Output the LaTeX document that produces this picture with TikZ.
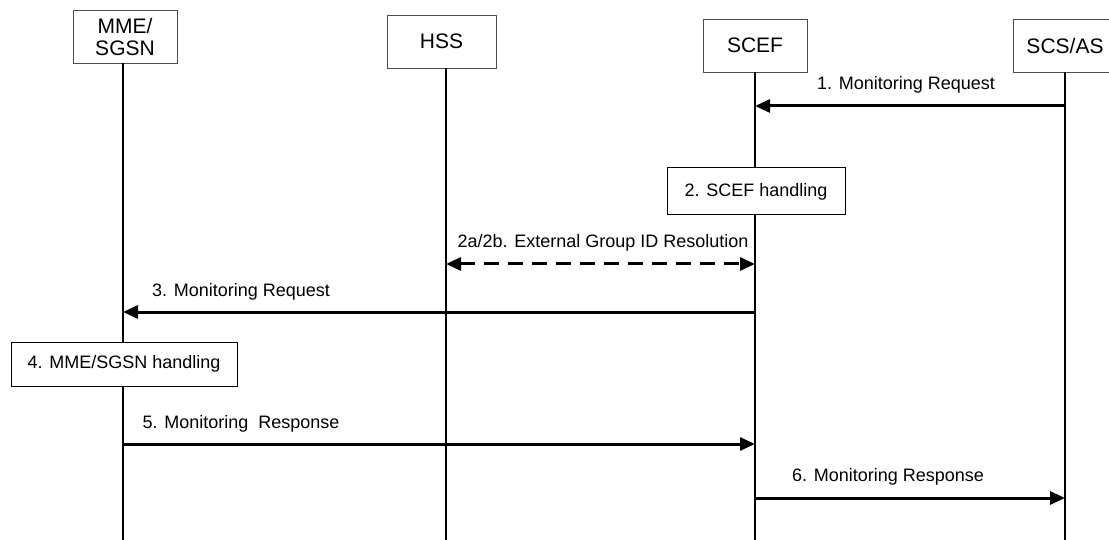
\documentclass[tikz,border=0pt]{standalone}
\usepackage{fontspec}
\setmainfont{Liberation Sans}
\usetikzlibrary{arrows.meta}
\begin{document}
\begin{tikzpicture}[x=1pt,y=-1pt,
  hdr/.style={draw=black!70,line width=0.8pt,fill=white,minimum width=104pt,minimum height=53pt,inner sep=0pt,font=\fontsize{21}{22}\selectfont,align=center},
  procbox/.style={draw=black,line width=1pt,fill=white,inner sep=0pt,font=\fontsize{18}{20}\selectfont},
  life/.style={line width=2pt},
  msg/.style={line width=3pt,-{Triangle[length=15pt,width=13pt]}},
  msgboth/.style={line width=3pt,dash pattern=on 15pt off 9pt,{Triangle[length=15pt,width=13pt]}-{Triangle[length=15pt,width=13pt]}},
  lbl/.style={font=\fontsize{18}{20}\selectfont,inner sep=0pt}]
\useasboundingbox (0,0) rectangle (1109,540);
\clip (0,0) rectangle (1109,540);
% lifelines ends
\coordinate (mmeB) at (123,540);
\coordinate (hssB) at (446,540);
\coordinate (scefB) at (755,540);
\coordinate (scsB) at (1065,540);
% headers
\node[hdr] (mme) at (125,36.5) {MME/\\SGSN};
\node[hdr,minimum width=109pt] (hss) at (441.5,41.5) {HSS};
\node[hdr] (scef) at (755,45.5) {SCEF};
\node[hdr] (scs) at (1065,45.5) {SCS/AS};
\draw[life] (123,63) -- (mmeB);
\draw[life] (446,68) -- (hssB);
\draw[life] (755,72) -- (scefB);
\draw[life] (1065,72) -- (scsB);
% step points
\coordinate (s1a) at (1065,106);
\coordinate (s1b) at (755,106);
\coordinate (s2a) at (446,264);
\coordinate (s2b) at (755,264);
\coordinate (s3a) at (755,312);
\coordinate (s3b) at (123,312);
\coordinate (s5a) at (123,444);
\coordinate (s5b) at (755,444);
\coordinate (s6a) at (755,498);
\coordinate (s6b) at (1065,498);
% messages
\draw[msg] (s1a) -- (s1b);
\node[lbl] (l1) at (906,85) {1. Monitoring Request};
\node[procbox,minimum width=178pt,minimum height=47pt] (p2) at (756,191.5) {2. SCEF handling};
\draw[msgboth] (s2a) -- (s2b);
\node[lbl] (l2) at (603,243) {2a/2b. External Group ID Resolution};
\draw[msg] (s3a) -- (s3b);
\node[lbl] (l3) at (241,292) {3. Monitoring Request};
\node[procbox,minimum width=226pt,minimum height=44pt] (p4) at (124,364) {4. MME/SGSN handling};
\draw[msg] (s5a) -- (s5b);
\node[lbl] (l5) at (241,424) {5. Monitoring\ \ Response};
\draw[msg] (s6a) -- (s6b);
\node[lbl] (l6) at (888,477) {6. Monitoring Response};
\end{tikzpicture}
\end{document}
